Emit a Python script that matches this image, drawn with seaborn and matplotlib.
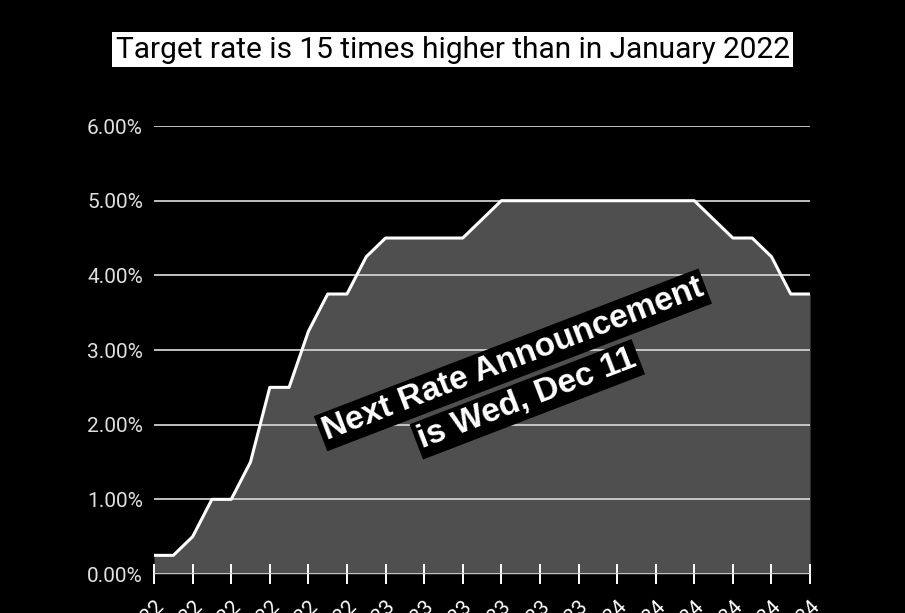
import matplotlib
matplotlib.use("Agg")
import matplotlib.pyplot as plt
import seaborn as sns
import numpy as np
import pandas as pd

# Monthly target rate (Jan 2022 - Nov 2024), percent
months = pd.date_range("2022-01-01", "2024-11-01", freq="MS")
rates = [0.25, 0.25, 0.50, 1.00, 1.00, 1.50, 2.50, 2.50, 3.25, 3.75, 3.75, 4.25,
         4.50, 4.50, 4.50, 4.50, 4.50, 4.75, 5.00, 5.00, 5.00, 5.00, 5.00, 5.00,
         5.00, 5.00, 5.00, 5.00, 5.00, 4.75, 4.50, 4.50, 4.25, 3.75, 3.75]
tick_labels = [d.strftime("%b %Y") for d in months[::2]]
title = "Target rate is 15 times higher than in January 2022"
note_1 = "Next Rate Announcement"
note_2 = "is Wed, Dec 11"

df = pd.DataFrame({"idx": np.arange(len(rates)), "rate": rates})

sns.set_style("dark", {"axes.facecolor": "black", "figure.facecolor": "black"})
plt.rcParams["font.family"] = ["Roboto", "DejaVu Sans"]

fig = plt.figure(figsize=(9.05, 6.13), dpi=100)
ax = fig.add_axes([0.1702, 0.0636, 0.7249, 0.7308])
ax.set_facecolor("black")

ax.fill_between(df["idx"], df["rate"], 0, color="#4f4f4f", linewidth=0, zorder=1)
sns.lineplot(data=df, x="idx", y="rate", ax=ax, color="white", linewidth=2.2, zorder=3)

ax.set_xlim(0, len(rates) - 1)
ax.set_ylim(0, 6)
ax.set_yticks(np.arange(0, 7, 1))
ax.set_yticklabels([f"{v:.2f}%" for v in np.arange(0, 7, 1)])
ax.set_xticks(df["idx"][::2])
ax.set_xticklabels(tick_labels, rotation=45, ha="right", rotation_mode="anchor")

ax.set_axisbelow(False)
ax.grid(axis="y", color="#cfcfcf", linewidth=1.3, zorder=2)
ax.grid(axis="x", visible=False)
for s in ax.spines.values():
    s.set_visible(False)

ax.tick_params(axis="y", left=False, length=0, labelsize=15, labelcolor="#e0e0e0", pad=8)
ax.tick_params(axis="x", bottom=True, direction="inout", length=14, width=1.4, color="white",
               labelsize=15, labelcolor="white", pad=10)
ax.set_xlabel("")
ax.set_ylabel("")

fig.text(0.5, 0.919, title, ha="center", va="center", fontsize=21.5, color="black",
         bbox=dict(facecolor="white", edgecolor="none", boxstyle="square,pad=0.12"))

box = dict(facecolor="black", edgecolor="none", boxstyle="square,pad=0.1")
ax.text(0.547, 0.478, note_1, transform=ax.transAxes, rotation=21, ha="center", va="center",
        rotation_mode="anchor", fontsize=24, fontweight="bold", color="white",
        family=["Liberation Sans", "DejaVu Sans"], bbox=box, zorder=5)
ax.text(0.569, 0.39, note_2, transform=ax.transAxes, rotation=21, ha="center", va="center",
        rotation_mode="anchor", fontsize=24, fontweight="bold", color="white",
        family=["Liberation Sans", "DejaVu Sans"], bbox=box, zorder=5)

fig.savefig("out.png", dpi=100, facecolor="black")
